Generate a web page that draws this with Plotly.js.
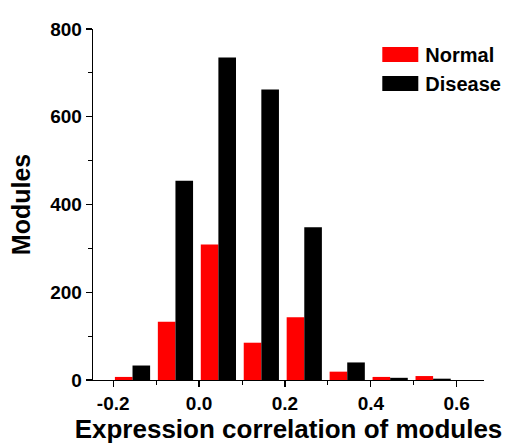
<!DOCTYPE html>
<html>
<head>
<meta charset="utf-8">
<script src="https://cdn.plot.ly/plotly-3.0.1.min.js"></script>
<style>html,body{margin:0;padding:0;background:#fff;}#chart{width:509px;height:444px;}</style>
</head>
<body>
<div id="chart"></div>
<script>
var binCenters = [-0.155, -0.055, 0.045, 0.145, 0.245, 0.345, 0.445, 0.545];
var normalCounts = [7, 133, 309, 85, 143, 19, 7, 9];
var diseaseCounts = [33, 454, 735, 662, 348, 40, 5, 3];
var xTickVals = [-0.2, 0.0, 0.2, 0.4, 0.6];
var xTickText = ["-0.2", "0.0", "0.2", "0.4", "0.6"];
var yTickVals = [0, 200, 400, 600, 800];

var fontFam = '"Liberation Sans", Arial, sans-serif';

var traces = [
  {type: 'bar', name: '<b>Normal</b>', x: binCenters, y: normalCounts,
   marker: {color: '#ff0000', line: {width: 0}}},
  {type: 'bar', name: '<b>Disease</b>', x: binCenters, y: diseaseCounts,
   marker: {color: '#000000', line: {width: 0}}}
];

var layout = {
  width: 509, height: 444,
  margin: {l: 93, r: 25, t: 29, b: 64, pad: 0, autoexpand: false},
  paper_bgcolor: '#fff', plot_bgcolor: '#fff',
  barmode: 'group', bargap: 0.18, bargroupgap: 0,
  showlegend: true,
  legend: {x: 0.722, y: 0.983, xanchor: 'left', yanchor: 'top',
    font: {family: fontFam, size: 20, color: '#000'},
    bgcolor: 'rgba(0,0,0,0)', tracegroupgap: 0, itemwidth: 40},
  xaxis: {
    range: [-0.247, 0.6635], tickmode: 'array', tickvals: xTickVals, ticktext: xTickText,
    showgrid: false, zeroline: false, showline: true, linecolor: '#000', linewidth: 1.3,
    ticks: 'outside', ticklen: 6, tickwidth: 1.2, tickcolor: '#000',
    minor: {dtick: 0.1, tick0: -0.2, ticks: 'outside', ticklen: 4, tickwidth: 1, tickcolor: '#000', showgrid: false},
    tickfont: {family: fontFam, size: 19, color: '#000', weight: 'bold'},
    title: {text: '<b>Expression correlation of modules</b>', font: {family: fontFam, size: 26, color: '#000'}, standoff: 7}
  },
  yaxis: {
    range: [0, 800], tickmode: 'array', tickvals: yTickVals,
    showgrid: false, zeroline: false, showline: true, linecolor: '#000', linewidth: 1.3,
    ticks: 'outside', ticklen: 6, tickwidth: 1.2, tickcolor: '#000',
    minor: {dtick: 100, tick0: 0, ticks: 'outside', ticklen: 4, tickwidth: 1, tickcolor: '#000', showgrid: false},
    tickfont: {family: fontFam, size: 19, color: '#000', weight: 'bold'},
    title: {text: '<b>Modules</b>', font: {family: fontFam, size: 25, color: '#000'}, standoff: 12}
  }
};

Plotly.newPlot('chart', traces, layout, {displayModeBar: false, staticPlot: true}).then(function (gd) {
  // enlarge legend swatches to wide rectangles like the reference
  var paths = gd.querySelectorAll('.legend .legendpoints path');
  paths.forEach(function (p) {
    p.setAttribute('d', 'M18,7.5H-18V-7.5H18Z');
    p.style.strokeWidth = '0px';
  });
});
</script>
</body>
</html>
